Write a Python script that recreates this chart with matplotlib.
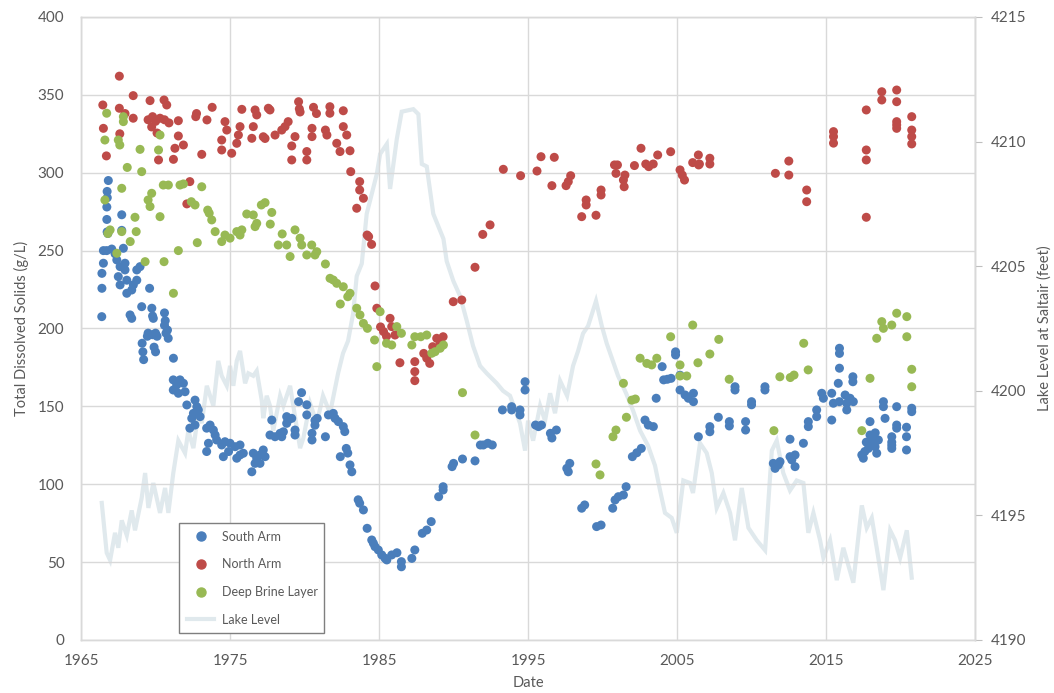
import matplotlib
matplotlib.use("Agg")
import matplotlib.pyplot as plt
from matplotlib.lines import Line2D

# ---------------- data ----------------
south_year = [
    1966.83, 1966.75, 1966.76, 1966.73, 1966.73, 1967.73, 1966.75, 1966.8, 1967.73,
    1966.5, 1966.72, 1967.06, 1967.28, 1967.84, 1966.5, 1967.4, 1967.62, 1967.95,
    1966.4, 1967.5, 1967.62, 1967.95, 1968.07, 1966.4, 1968.07, 1968.4, 1968.51,
    1968.74, 1968.74, 1968.96, 1966.39, 1968.29, 1968.4, 1969.07, 1969.6, 1969.75,
    1969.8, 1969.85, 1970.6, 1970.65, 1970.6, 1970.8, 1970.7, 1970.85, 1969.5,
    1969.45, 1969.8, 1970.0, 1970.1, 1969.1, 1969.15, 1969.2, 1969.9, 1970.0,
    1971.2, 1971.19, 1971.42, 1971.64, 1971.87, 1971.19, 1971.53, 1971.98, 1972.1,
    1972.65, 1972.77, 1972.87, 1972.54, 1972.43, 1972.99, 1972.65, 1972.3,
    1973.43, 1973.66, 1973.88, 1974.0, 1974.1, 1973.55, 1973.43,
    1974.44, 1974.66, 1975.0, 1974.55, 1974.9, 1975.34, 1975.67, 1975.89, 1975.45,
    1975.67, 1976.56, 1976.79, 1977.01, 1977.23, 1977.35, 1976.46, 1976.68, 1977.01,
    1977.8, 1977.68, 1978.02, 1978.36, 1978.58, 1978.8, 1978.8,
    1979.8, 1979.6, 1980.15, 1980.15, 1978.9, 1979.14, 1978.47, 1978.47, 1979.36,
    1979.36, 1980.5, 1980.5, 1980.7, 1980.85, 1980.7, 1981.4, 1981.6, 1981.93,
    1982.05, 1982.27, 1982.6, 1982.7, 1982.4, 1982.8, 1982.9, 1983.05, 1983.17,
    1983.6, 1983.7, 1983.95, 1984.2, 1984.51, 1984.62, 1984.73, 1984.95, 1985.18,
    1985.4, 1985.52, 1985.85, 1986.2, 1986.5, 1986.5, 1987.2, 1987.4, 1987.9,
    1988.2, 1988.5, 1989.0, 1989.3, 1989.3, 1989.9, 1990.0, 1990.6, 1991.44, 1991.8,
    1992.0, 1992.3, 1992.6, 1993.28, 1993.9, 1993.9, 1994.46, 1994.46, 1994.8,
    1994.8, 1995.5, 1995.7, 1995.9, 1996.5, 1996.6, 1996.9, 1997.6, 1997.7, 1997.8,
    1998.6, 1998.8, 1999.6, 1999.9, 2000.68, 2000.84, 2001.06, 2001.4, 2001.58,
    2002.0, 2002.3, 2002.6, 2002.85, 2003.07, 2003.41, 2003.6, 2004.0, 2004.1,
    2004.35, 2004.6, 2004.9, 2004.9, 2005.2, 2005.2, 2005.54, 2005.76, 2006.1,
    2006.1, 2006.43, 2007.2, 2007.2, 2007.77, 2008.51, 2008.51, 2008.89, 2008.89,
    2009.6, 2009.6, 2010.0, 2010.0, 2010.9, 2010.9, 2011.46, 2011.58, 2011.8,
    2011.91, 2012.58, 2012.58, 2012.7, 2012.92, 2012.92, 2013.48, 2013.81, 2013.81,
    2014.37, 2014.37, 2014.71, 2014.82, 2015.38, 2015.38, 2015.49, 2015.82, 2015.89,
    2016.28, 2016.39, 2016.61, 2016.83, 2016.39, 2015.9, 2015.9, 2015.9, 2016.8,
    2016.8, 2017.95, 2017.95, 2018.07, 2018.29, 2018.4, 2017.4, 2017.5, 2017.84,
    2018.51, 2017.6, 2017.7, 2018.2, 2018.3, 2018.85, 2018.85, 2018.96, 2019.74,
    2019.41, 2019.41, 2019.74, 2019.74, 2019.41, 2019.41, 2020.4, 2020.4, 2020.4,
    2020.75, 2020.75,
]
south_tds = [
    295, 288, 284, 278, 270, 273, 262, 261, 263,
    250, 250, 251, 248, 251.5, 241.9, 244, 239.7, 241.9,
    235.4, 233.3, 228, 237.6, 231, 225.8, 222.6, 224.7, 228,
    231, 237.6, 239.7, 207.6, 208.7, 206.5, 214, 225.8, 213,
    208, 206.5, 210, 205, 202, 199, 197, 193.7, 197,
    195, 196, 197, 195, 190.5, 185, 180, 188, 185,
    180.9, 167, 163.7, 167, 164.8, 160.5, 158.4, 159.4, 150.9,
    154, 149.8, 147.7, 145.5, 142.3, 143.4, 138, 136,
    136, 138, 134.8, 131.6, 128.4, 126.3, 121,
    125.2, 127.3, 126.3, 117.7, 121, 124.1, 125.2, 119.9, 116.7,
    118.8, 119.9, 116.7, 118.8, 122, 117.7, 108, 113.4, 113.4,
    141.2, 131.6, 130.5, 132.7, 133.7, 143.4, 139.1,
    158.8, 153, 151, 144.5, 141.2, 142.3, 132.7, 130.5, 134.8,
    131.6, 132.7, 128.4, 141, 142.3, 137.9, 130.5, 144.5, 145.5,
    142.3, 140.2, 137, 133.8, 117.7, 123, 120, 112.4, 108,
    90, 87.8, 83.5, 71.7, 64.2, 62.1, 59.9, 57.8, 54.6,
    52.5, 51.4, 54.6, 56, 50.3, 47, 52.4, 57.8, 68.5,
    70.6, 76, 92, 96.3, 98.4, 111.3, 113.4, 116.2, 115, 125.2,
    125.2, 126.3, 125.2, 147.7, 149.8, 147.7, 147.7, 144.5, 165.8,
    160.5, 138, 137, 138, 132.7, 129.7, 134.8, 110.2, 108, 113.4,
    84.6, 86.7, 72.8, 73.8, 84.6, 89.9, 92, 93.1, 98.4,
    117.7, 120.2, 123, 141.2, 138, 137, 155.2, 175.5, 167,
    167.4, 168, 185, 183, 170, 160.5, 157.3, 155.2, 158.4,
    153, 130.5, 137, 133.7, 143, 140.2, 137.4, 162.6, 160.5,
    140.2, 134.8, 153, 151, 162.6, 160.5, 113.4, 110.2, 112.4,
    114.5, 128.9, 117.7, 115.6, 118.8, 111.3, 126.3, 140.2, 137,
    147.7, 143.4, 158.4, 155.2, 141.2, 158.4, 152, 164.8, 153,
    157.3, 152, 155.2, 153, 147.7, 187.3, 184, 174.5, 169,
    165.8, 140.2, 131.6, 127.3, 124.1, 119.9, 118.8, 116.7, 123,
    128.4, 121, 127, 130, 133, 153, 149.8, 142.3, 149.8,
    130.5, 123, 136, 138, 127, 125, 136.6, 130.5, 122,
    148.8, 146.6,
]

north_year = [
    1966.46, 1966.5, 1966.7, 1967.57, 1967.57, 1967.6, 1967.95, 1968.5, 1968.5,
    1969.5, 1969.63, 1969.74, 1969.8, 1970.0, 1970.1, 1970.2, 1970.3, 1970.57,
    1970.6, 1970.75, 1970.9, 1971.2, 1971.3, 1971.53, 1971.53, 1971.87, 1972.3,
    1972.1, 1972.7, 1972.75, 1973.1, 1973.45, 1973.8, 1974.44, 1974.44, 1974.66,
    1974.78, 1975.11, 1975.45, 1975.56, 1975.67, 1975.79, 1976.46, 1976.56, 1976.68,
    1976.79, 1977.23, 1977.35, 1977.57, 1977.68, 1978.02, 1978.47, 1978.69, 1978.9,
    1979.14, 1979.14, 1979.36, 1979.6, 1979.65, 1979.7, 1980.15, 1980.15, 1980.5,
    1980.5, 1980.6, 1980.8, 1981.4, 1981.5, 1981.7, 1981.7, 1982.16, 1982.38,
    1982.6, 1982.6, 1982.83, 1983.05, 1983.1, 1983.5, 1983.7, 1983.7, 1983.95,
    1984.2, 1984.3, 1984.5, 1984.73, 1984.85, 1985.1, 1985.3, 1985.5, 1985.74,
    1985.85, 1986.07, 1986.4, 1987.4, 1987.4, 1987.4, 1988.0, 1988.2, 1988.4,
    1988.6, 1988.87, 1989.1, 1989.3, 1989.98, 1990.55, 1991.44, 1991.96, 1992.45,
    1993.34, 1994.5, 1995.6, 1995.87, 1996.6, 1996.76, 1997.55, 1997.7, 1997.86,
    1998.6, 1998.9, 1998.9, 1999.56, 1999.9, 1999.9, 2000.8, 2000.9, 2001.0,
    2001.4, 2001.45, 2001.5, 2002.14, 2002.58, 2002.9, 2003.1, 2003.4, 2003.7,
    2004.57, 2005.2, 2005.35, 2005.5, 2006.05, 2006.43, 2006.45, 2006.5, 2007.2,
    2007.2, 2011.6, 2012.5, 2012.5, 2013.7, 2013.7, 2015.5, 2015.5, 2015.5,
    2017.7, 2017.7, 2017.7, 2017.7, 2018.74, 2018.74, 2019.74, 2019.74, 2019.74,
    2019.74, 2019.74, 2020.75, 2020.75, 2020.75, 2020.75,
]
north_tds = [
    343.5, 328.5, 310.8, 362, 341.4, 325, 338, 349.5, 335,
    334, 346.3, 329.4, 336, 333, 325.5, 308.2, 335, 346.7,
    334, 343.5, 332, 308.6, 315.7, 333.4, 323.6, 317.8, 294.3,
    280, 336, 338, 311.8, 333.9, 342, 321, 314.6, 332.8,
    327.4, 312.5, 318.9, 324.2, 329.6, 340.7, 322.1, 329.6, 340.3,
    337.1, 323.1, 322, 341.4, 340.3, 324.2, 327.4, 329.6, 332.8,
    317.2, 308.2, 323.2, 345.6, 341, 339, 313.6, 308.2, 328.5,
    323.2, 342, 338, 327.4, 324.2, 342.4, 338.2, 318.9, 313.6,
    339.8, 329.6, 324.2, 314.1, 300.7, 277.2, 294.3, 288.9, 283.6,
    260, 259, 254, 227.3, 213, 201, 198, 195, 206.5,
    201.2, 195.8, 178, 178.7, 172.3, 166.5, 184, 180.9, 177.6,
    188.3, 193.7, 190.5, 194.7, 217.2, 218.3, 239.3, 260.4, 266.5,
    302.2, 298.1, 301.1, 310.3, 291.7, 309.9, 291.7, 294.3, 298.1,
    271.8, 282.5, 279.3, 272.7, 288.9, 285.7, 305, 299.6, 305,
    295.3, 291, 298.5, 304.6, 315.7, 305.6, 303.9, 305.6, 311.4,
    313.5, 301.8, 298.5, 295.3, 306.5, 311.4, 305, 305.6, 309.3,
    305.6, 299.6, 307.5, 298.5, 288.9, 281.4, 326.4, 323.2, 319,
    340.3, 314.6, 308.2, 271.4, 352, 346.7, 353.1, 345.6, 332.8,
    330.7, 328.5, 336, 327.4, 323.2, 318.5,
]

deep_year = [
    1966.72, 1967.84, 1967.84, 1966.6, 1967.5, 1967.6, 1968.96, 1970.2, 1970.3,
    1968.1, 1969.07, 1967.73, 1966.6, 1969.5, 1969.74, 1969.63, 1970.52, 1970.86,
    1971.64, 1971.87, 1973.1, 1972.4, 1972.65, 1973.5, 1973.6, 1973.77, 1970.3,
    1968.62, 1967.73, 1968.7, 1966.95, 1966.8, 1968.3, 1967.4, 1971.53, 1969.3,
    1970.57, 1971.2, 1972.8, 1974.0, 1974.44, 1974.66, 1975.0, 1975.45, 1975.67,
    1975.79, 1976.12, 1976.56, 1976.79, 1976.68, 1977.1, 1977.35, 1977.8, 1977.7,
    1978.5, 1978.24, 1978.8, 1979.03, 1979.36, 1979.7, 1979.81, 1980.15, 1980.48,
    1980.7, 1980.82, 1981.4, 1981.71, 1981.93, 1982.16, 1982.6, 1983.05, 1982.9,
    1982.4, 1983.5, 1983.72, 1983.95, 1984.22, 1984.7, 1985.07, 1985.5, 1985.85,
    1986.19, 1986.5, 1987.2, 1987.4, 1987.8, 1988.2, 1988.54, 1988.76, 1989.1,
    1989.32, 1984.85, 1990.6, 1991.44, 1999.56, 1999.83, 2000.7, 2000.9, 2001.6,
    2001.4, 2001.96, 2002.2, 2002.52, 2002.97, 2003.3, 2003.64, 2005.2, 2005.65,
    2005.2, 2006.4, 2004.57, 2006.05, 2007.2, 2007.8, 2008.5, 2011.9, 2012.6,
    2012.85, 2013.5, 2013.8, 2011.5, 2017.95, 2017.4, 2018.4, 2018.74, 2018.85,
    2019.41, 2019.74, 2020.42, 2020.42, 2020.75, 2020.75,
]
deep_tds = [
    338.2, 336, 332.8, 321, 321, 317.8, 315, 314.6, 324.2,
    303.4, 300.7, 290, 282.5, 282.5, 286.8, 278.3, 292.1, 292.1,
    292.1, 292.8, 291, 281.4, 279.3, 276, 274, 269.7, 271.8,
    271.4, 262.2, 262.2, 263.3, 261, 255.8, 248.3, 250, 242.9,
    242.9, 222.6, 255.1, 262.2, 255.8, 260, 258, 262.2, 260,
    263.3, 273.5, 272.9, 267.5, 265.4, 279.3, 280.8, 274.5, 267,
    260.7, 253.6, 253.6, 246.2, 263.3, 258, 253.6, 247.2, 253.6,
    247.2, 249.3, 241.4, 232.2, 231.1, 229, 226.8, 222.6, 220.4,
    215.7, 213, 208.7, 203.3, 200.1, 192.6, 210.8, 190.5, 189.4,
    201.2, 196.9, 189.4, 194.7, 194.7, 195.8, 184.1, 185.1, 187.3,
    189.4, 175.5, 158.8, 131.6, 113, 106, 130.5, 134.8, 143,
    164.8, 154, 154.7, 180.9, 177.6, 176.6, 180.9, 176.6, 169.5,
    169.5, 178, 194.7, 202.2, 183.6, 193, 167.4, 169, 168.5,
    170.1, 190.5, 173.4, 134.4, 168, 134.4, 193.7, 204.4, 200.1,
    202.2, 209.8, 207.6, 194.7, 173.8, 162.6,
]

lake_year = [
    1966.39, 1966.72, 1966.95, 1967.28, 1967.5, 1967.73, 1968.07, 1968.4, 1968.62,
    1969.07, 1969.3, 1969.52, 1969.85, 1970.3, 1970.64, 1970.86, 1971.19, 1971.53,
    1971.98, 1972.2, 1972.54, 1972.87, 1973.1, 1973.44, 1973.88, 1974.21, 1974.44,
    1974.78, 1975.0, 1975.22, 1975.45, 1975.67, 1976.01, 1976.23, 1976.56, 1976.79,
    1977.13, 1977.23, 1977.46, 1977.68, 1977.9, 1978.13, 1978.36, 1978.58, 1979.03,
    1979.7, 1979.92, 1980.37, 1980.82, 1981.24, 1981.71, 1982.25, 1982.58, 1982.92,
    1983.26, 1983.5, 1983.84, 1984.17, 1984.85, 1985.07, 1985.52, 1985.74, 1986.19,
    1986.52, 1987.3, 1987.64, 1987.87, 1988.2, 1988.64, 1989.32, 1989.54, 1989.99,
    1990.44, 1990.89, 1991.31, 1991.78, 1992.23, 1992.9, 1993.32, 1993.79, 1994.46,
    1994.8, 1995.0, 1995.34, 1995.81, 1996.14, 1996.48, 1996.81, 1997.15, 1997.62,
    1998.02, 1998.36, 1998.69, 1999.03, 1999.56, 1999.95, 2000.28, 2000.57, 2001.04,
    2001.58, 2002.05, 2002.52, 2003.05, 2003.52, 2003.86, 2004.19, 2004.64, 2004.98,
    2005.42, 2005.87, 2006.07, 2006.54, 2006.99, 2007.33, 2007.66, 2008.11, 2008.56,
    2008.89, 2009.34, 2009.79, 2010.35, 2010.91, 2011.36, 2011.69, 2012.13, 2012.58,
    2013.03, 2013.48, 2013.81, 2014.15, 2014.6, 2014.82, 2015.27, 2015.72, 2016.16,
    2016.83, 2017.4, 2017.73, 2018.07, 2018.4, 2018.85, 2019.3, 2019.63, 2019.97,
    2020.42, 2020.75,
]
lake_ft = [
    4195.5, 4193.5, 4193.2, 4194.3, 4193.7, 4194.8, 4194.2, 4195.2, 4194.4,
    4195.7, 4196.7, 4195.3, 4196.3, 4195.1, 4196.1, 4195.1, 4196.7, 4198.0,
    4197.5, 4198.4, 4197.7, 4199.1, 4198.7, 4200.2, 4199.4, 4201.2, 4200.6,
    4200.2, 4201.0, 4200.2, 4201.2, 4201.6, 4200.3, 4200.7, 4200.6, 4200.8,
    4199.6, 4198.9, 4199.8, 4199.4, 4198.4, 4199.1, 4199.8, 4199.4, 4200.2,
    4197.7, 4198.1, 4199.5, 4198.7, 4199.8, 4199.1, 4200.7, 4201.5, 4202.0,
    4203.1, 4204.6, 4205.1, 4207.1, 4208.7, 4209.5, 4209.9, 4208.1, 4210.1,
    4211.2, 4211.3, 4211.1, 4209.1, 4209.0, 4207.1, 4206.1, 4205.2, 4204.4,
    4203.8, 4202.8, 4201.8, 4201.0, 4200.7, 4200.3, 4200.0, 4199.8, 4198.7,
    4197.6, 4198.8, 4198.0, 4199.4, 4198.8, 4199.9, 4199.1, 4200.4, 4199.8,
    4201.0, 4201.6, 4202.3, 4202.6, 4203.6, 4202.6, 4201.9, 4201.4, 4200.6,
    4199.9, 4199.2, 4198.4, 4197.8, 4197.0, 4196.0, 4195.1, 4194.9, 4194.3,
    4196.4, 4196.3, 4195.9, 4197.9, 4197.5, 4196.7, 4195.3, 4195.9, 4195.1,
    4194.0, 4196.1, 4194.5, 4194.0, 4193.6, 4197.6, 4198.0, 4196.7, 4196.0,
    4196.4, 4196.3, 4194.3, 4195.1, 4194.0, 4193.3, 4194.0, 4192.4, 4193.7,
    4192.3, 4195.4, 4194.5, 4194.9, 4193.7, 4192.0, 4194.4, 4194.0, 4193.3,
    4194.4, 4192.5,
]

x_ticks = [1965, 1975, 1985, 1995, 2005, 2015, 2025]
y_ticks = [0, 50, 100, 150, 200, 250, 300, 350, 400]
y2_ticks = [4190, 4195, 4200, 4205, 4210, 4215]

# ---------------- styling ----------------
plt.rcParams['font.family'] = ['Lato', 'DejaVu Sans']
TXT = '#595959'
GRID = '#d9d9d9'
C_SOUTH = '#4a7ebb'
C_NORTH = '#be4b48'
C_DEEP = '#98b954'
C_LAKE = '#e0e9ed'

fig = plt.figure(figsize=(10.54, 6.93), dpi=100)
ax = fig.add_axes([0.0769, 0.0765, 0.8482, 0.899])
ax2 = ax.twinx()
ax.set_zorder(2)
ax2.set_zorder(1)
ax.patch.set_visible(False)

ax2.plot(lake_year, lake_ft, color=C_LAKE, lw=3, solid_joinstyle='miter')

ms = 42
ax.scatter(south_year, south_tds, s=ms, color=C_SOUTH, edgecolors='none', zorder=3)
ax.scatter(north_year, north_tds, s=ms, color=C_NORTH, edgecolors='none', zorder=3)
ax.scatter(deep_year, deep_tds, s=ms, color=C_DEEP, edgecolors='none', zorder=3)

ax.set_xlim(1965, 2025)
ax.set_ylim(0, 400)
ax2.set_ylim(4190, 4215)
ax.set_xticks(x_ticks)
ax.set_yticks(y_ticks)
ax2.set_yticks(y2_ticks)

ax.grid(True, color=GRID, lw=1)
ax.set_axisbelow(True)
for a in (ax, ax2):
    for s in a.spines.values():
        s.set_color(GRID)
        s.set_linewidth(1)
ax2.spines['right'].set_color('#bfbfbf')

ax.tick_params(axis='both', length=0, labelsize=11, labelcolor=TXT)
ax.tick_params(axis='y', pad=12)
ax.tick_params(axis='x', pad=10)
ax2.tick_params(axis='y', length=5, color='#bfbfbf', labelsize=11, labelcolor=TXT, pad=6)

ax.set_xlabel('Date', fontsize=10.5, color=TXT, labelpad=6)
ax.set_ylabel('Total Dissolved Solids (g/L)', fontsize=10.5, color=TXT, labelpad=6)
ax2.set_ylabel('Lake Level at Saltair (feet)', fontsize=10.5, color=TXT, labelpad=8)

handles = [
    Line2D([], [], marker='o', ls='none', color=C_SOUTH, markersize=6.5),
    Line2D([], [], marker='o', ls='none', color=C_NORTH, markersize=6.5),
    Line2D([], [], marker='o', ls='none', color=C_DEEP, markersize=6.5),
    Line2D([], [], color=C_LAKE, lw=3),
]
labels = ['South Arm', 'North Arm', 'Deep Brine Layer', 'Lake Level']
leg = ax.legend(handles, labels, loc='lower left', bbox_to_anchor=(0.11, 0.011, 0.162, 0.17),
                mode='expand', fontsize=9, frameon=True, fancybox=False,
                edgecolor='#7f7f7f', framealpha=1, borderpad=0.6, labelspacing=1.25,
                handlelength=2.2, handletextpad=0.6, borderaxespad=0)
leg.get_frame().set_linewidth(1)
for t in leg.get_texts():
    t.set_color(TXT)

fig.savefig('out.png', dpi=100)
